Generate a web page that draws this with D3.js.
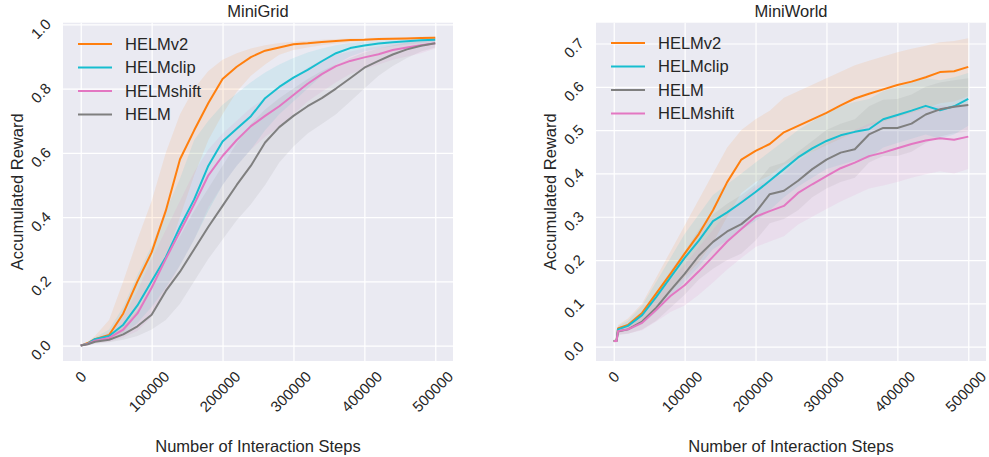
<!DOCTYPE html>
<html lang="en">
<head>
<meta charset="UTF-8">
<title>MiniGrid / MiniWorld</title>
<script src="https://d3js.org/d3.v7.min.js"></script>
<style>
  body { margin: 0; background: #fff; }
  svg { font-family: "Liberation Sans", Arial, sans-serif; }
  text { fill: #262626; }
  .grid line { stroke: #fff; stroke-width: 1.2; }
  .grid .domain { display: none; }
  .tick text { font-size: 15px; }
  .band { fill-opacity: 0.11; stroke: none; }
  .line { fill: none; stroke-width: 2; stroke-linejoin: round; }
</style>
</head>
<body>
<div id="chart"></div>
<script>
// ---- shared
const colors = { HELMv2: "#ff7f0e", HELMclip: "#17becf", HELMshift: "#e377c2", HELM: "#7f7f7f" };
const xTicks = [0, 100000, 200000, 300000, 400000, 500000];

// ---- MiniGrid
const gridSteps = [0, 10000, 20000, 40000, 60000, 80000, 100000, 120000, 140000, 160000, 180000, 200000, 220000, 240000, 260000, 280000, 300000, 320000, 340000, 360000, 380000, 400000, 420000, 440000, 460000, 480000, 500000];
const gridYTicks = [0, 0.2, 0.4, 0.6, 0.8, 1.0];
const gridOrder = ["HELMv2", "HELMclip", "HELMshift", "HELM"];

const gridV2Mean = [0, 0.008, 0.02, 0.033, 0.1, 0.2, 0.29, 0.42, 0.58, 0.67, 0.755, 0.83, 0.868, 0.898, 0.918, 0.928, 0.938, 0.941, 0.945, 0.948, 0.951, 0.952, 0.954, 0.955, 0.956, 0.957, 0.958];
const gridV2Lo = [0, 0.005, 0.012, 0.02, 0.04, 0.1, 0.18, 0.27, 0.4, 0.53, 0.64, 0.72, 0.79, 0.84, 0.875, 0.905, 0.92, 0.928, 0.935, 0.94, 0.944, 0.947, 0.949, 0.951, 0.952, 0.953, 0.954];
const gridV2Hi = [0, 0.012, 0.03, 0.08, 0.2, 0.33, 0.45, 0.6, 0.72, 0.8, 0.855, 0.89, 0.91, 0.925, 0.935, 0.942, 0.946, 0.949, 0.952, 0.954, 0.956, 0.957, 0.958, 0.959, 0.96, 0.961, 0.962];

const gridClipMean = [0, 0.006, 0.02, 0.03, 0.065, 0.125, 0.2, 0.275, 0.37, 0.455, 0.56, 0.635, 0.675, 0.714, 0.77, 0.805, 0.834, 0.858, 0.885, 0.91, 0.926, 0.934, 0.94, 0.944, 0.947, 0.95, 0.952];
const gridClipLo = [0, 0.003, 0.012, 0.018, 0.035, 0.07, 0.12, 0.18, 0.25, 0.33, 0.42, 0.5, 0.56, 0.61, 0.67, 0.72, 0.76, 0.8, 0.84, 0.875, 0.9, 0.915, 0.925, 0.932, 0.937, 0.942, 0.946];
const gridClipHi = [0, 0.01, 0.025, 0.05, 0.12, 0.22, 0.31, 0.42, 0.52, 0.64, 0.7, 0.75, 0.785, 0.82, 0.85, 0.875, 0.895, 0.912, 0.925, 0.935, 0.942, 0.946, 0.949, 0.952, 0.954, 0.956, 0.958];

const gridShiftMean = [0, 0.005, 0.015, 0.024, 0.05, 0.1, 0.18, 0.27, 0.355, 0.44, 0.53, 0.59, 0.64, 0.683, 0.715, 0.745, 0.78, 0.815, 0.845, 0.87, 0.886, 0.897, 0.907, 0.92, 0.928, 0.935, 0.941];
const gridShiftLo = [0, 0.002, 0.008, 0.012, 0.025, 0.045, 0.09, 0.17, 0.25, 0.33, 0.43, 0.5, 0.56, 0.61, 0.65, 0.68, 0.72, 0.76, 0.79, 0.82, 0.845, 0.86, 0.875, 0.89, 0.9, 0.91, 0.925];
const gridShiftHi = [0, 0.01, 0.022, 0.04, 0.09, 0.17, 0.27, 0.36, 0.45, 0.54, 0.61, 0.66, 0.7, 0.74, 0.77, 0.8, 0.835, 0.865, 0.89, 0.905, 0.915, 0.925, 0.932, 0.94, 0.945, 0.95, 0.953];

const gridHelmMean = [0, 0.004, 0.012, 0.018, 0.035, 0.06, 0.096, 0.17, 0.23, 0.3, 0.37, 0.435, 0.5, 0.56, 0.632, 0.68, 0.715, 0.745, 0.77, 0.8, 0.832, 0.865, 0.886, 0.906, 0.922, 0.933, 0.941];
const gridHelmLo = [0, 0.001, 0.006, 0.01, 0.018, 0.03, 0.05, 0.08, 0.13, 0.2, 0.27, 0.33, 0.39, 0.44, 0.5, 0.57, 0.62, 0.66, 0.69, 0.72, 0.76, 0.8, 0.84, 0.87, 0.895, 0.915, 0.928];
const gridHelmHi = [0, 0.008, 0.018, 0.03, 0.06, 0.11, 0.18, 0.27, 0.34, 0.42, 0.49, 0.56, 0.63, 0.69, 0.735, 0.77, 0.8, 0.83, 0.855, 0.875, 0.895, 0.912, 0.925, 0.935, 0.943, 0.948, 0.952];

// ---- MiniWorld
const worldSteps = [0, 4000, 6000, 20000, 40000, 60000, 80000, 100000, 120000, 140000, 160000, 180000, 200000, 220000, 240000, 260000, 280000, 300000, 320000, 340000, 360000, 380000, 400000, 420000, 440000, 460000, 480000, 500000];
const worldYTicks = [0, 0.1, 0.2, 0.3, 0.4, 0.5, 0.6, 0.7];
const worldOrder = ["HELMv2", "HELMclip", "HELM", "HELMshift"];

const worldV2Mean = [0.013, 0.014, 0.042, 0.05, 0.078, 0.123, 0.168, 0.215, 0.26, 0.315, 0.38, 0.432, 0.452, 0.468, 0.495, 0.51, 0.525, 0.54, 0.557, 0.573, 0.584, 0.594, 0.604, 0.612, 0.622, 0.634, 0.636, 0.646];
const worldV2Lo = [0.01, 0.011, 0.034, 0.038, 0.058, 0.09, 0.125, 0.16, 0.195, 0.24, 0.3, 0.355, 0.38, 0.395, 0.42, 0.435, 0.45, 0.465, 0.48, 0.495, 0.51, 0.52, 0.53, 0.54, 0.55, 0.562, 0.566, 0.578];
const worldV2Hi = [0.016, 0.017, 0.05, 0.065, 0.1, 0.16, 0.22, 0.28, 0.34, 0.4, 0.46, 0.5, 0.525, 0.545, 0.575, 0.59, 0.605, 0.62, 0.635, 0.65, 0.66, 0.67, 0.68, 0.688, 0.695, 0.703, 0.706, 0.712];

const worldClipMean = [0.013, 0.014, 0.04, 0.048, 0.073, 0.115, 0.16, 0.205, 0.245, 0.29, 0.31, 0.333, 0.357, 0.383, 0.41, 0.437, 0.458, 0.475, 0.488, 0.496, 0.502, 0.525, 0.535, 0.545, 0.556, 0.546, 0.555, 0.572];
const worldClipLo = [0.01, 0.011, 0.032, 0.036, 0.052, 0.08, 0.115, 0.15, 0.185, 0.225, 0.245, 0.27, 0.29, 0.315, 0.345, 0.37, 0.39, 0.41, 0.42, 0.43, 0.435, 0.46, 0.47, 0.48, 0.49, 0.48, 0.49, 0.51];
const worldClipHi = [0.016, 0.016, 0.048, 0.06, 0.095, 0.15, 0.205, 0.26, 0.305, 0.35, 0.375, 0.4, 0.425, 0.45, 0.475, 0.5, 0.52, 0.54, 0.555, 0.565, 0.572, 0.59, 0.6, 0.61, 0.62, 0.615, 0.622, 0.632];

const worldHelmMean = [0.013, 0.013, 0.035, 0.04, 0.058, 0.09, 0.13, 0.168, 0.21, 0.242, 0.266, 0.283, 0.31, 0.352, 0.36, 0.383, 0.41, 0.432, 0.448, 0.456, 0.49, 0.505, 0.505, 0.515, 0.536, 0.548, 0.554, 0.558];
const worldHelmLo = [0.01, 0.01, 0.027, 0.03, 0.04, 0.06, 0.09, 0.12, 0.155, 0.18, 0.2, 0.215, 0.245, 0.285, 0.295, 0.315, 0.345, 0.365, 0.38, 0.39, 0.425, 0.44, 0.44, 0.45, 0.47, 0.485, 0.493, 0.497];
const worldHelmHi = [0.016, 0.016, 0.045, 0.052, 0.08, 0.125, 0.175, 0.22, 0.27, 0.305, 0.33, 0.35, 0.375, 0.415, 0.425, 0.45, 0.475, 0.5, 0.515, 0.525, 0.555, 0.57, 0.572, 0.582, 0.6, 0.61, 0.615, 0.62];

const worldShiftMean = [0.013, 0.013, 0.036, 0.04, 0.055, 0.085, 0.117, 0.142, 0.174, 0.208, 0.243, 0.272, 0.3, 0.313, 0.325, 0.355, 0.375, 0.394, 0.412, 0.425, 0.44, 0.448, 0.458, 0.468, 0.476, 0.481, 0.478, 0.485];
const worldShiftLo = [0.01, 0.01, 0.028, 0.03, 0.038, 0.058, 0.08, 0.095, 0.12, 0.148, 0.178, 0.205, 0.23, 0.243, 0.255, 0.282, 0.3, 0.318, 0.335, 0.35, 0.365, 0.372, 0.38, 0.39, 0.398, 0.405, 0.4, 0.41];
const worldShiftHi = [0.016, 0.016, 0.045, 0.05, 0.075, 0.115, 0.155, 0.19, 0.23, 0.27, 0.31, 0.34, 0.37, 0.385, 0.4, 0.43, 0.45, 0.47, 0.49, 0.5, 0.515, 0.525, 0.535, 0.545, 0.552, 0.557, 0.555, 0.56];

const width = 989, height = 457;
const svg = d3.select("#chart").append("svg").attr("width", width).attr("height", height);

function drawPanel(cfg) {
  const top = 22.7, bottom = 361, w = 390;
  const x = d3.scaleLinear().domain([-25000, 525000]).range([cfg.left, cfg.left + w]);
  const y = d3.scaleLinear().domain(cfg.yDomain).range([bottom, top]);
  const g = svg.append("g");

  g.append("rect").attr("x", cfg.left).attr("y", top)
    .attr("width", w).attr("height", bottom - top).attr("fill", "#eaeaf2");

  // grid + x tick labels (rotated 45deg, like plt.xticks(rotation=45))
  const xa = g.append("g").attr("class", "grid")
    .attr("transform", `translate(0,${bottom})`)
    .call(d3.axisBottom(x).tickValues(xTicks).tickSize(-(bottom - top)).tickFormat(d3.format("d")))
    .attr("font-family", null).attr("font-size", null);
  xa.selectAll(".tick text").each(function () {
    const tw = this.getComputedTextLength();
    const ink = (tw + 0.72 * 15) * Math.SQRT1_2;
    d3.select(this).attr("x", 0).attr("y", 0).attr("dy", "0.35em").attr("text-anchor", "middle")
      .attr("transform", `translate(${-tw / 16},${9 + ink / 2}) rotate(-45)`);
  });

  const ya = g.append("g").attr("class", "grid")
    .attr("transform", `translate(${cfg.left},0)`)
    .call(d3.axisLeft(y).tickValues(cfg.yTicks).tickSize(-w).tickFormat(d3.format(".1f")))
    .attr("font-family", null).attr("font-size", null);
  ya.selectAll(".tick text").each(function () {
    const tw = this.getComputedTextLength();
    const ink = (tw + 0.72 * 15) * Math.SQRT1_2;
    d3.select(this).attr("x", 0).attr("y", 0).attr("dy", "0.35em").attr("text-anchor", "middle")
      .attr("transform", `translate(${-11 - ink / 2},4) rotate(-45)`);
  });

  const area = d3.area().x((d, i) => x(cfg.steps[i])).y0(d => y(d[0])).y1(d => y(d[1]));
  const line = d3.line().x((d, i) => x(cfg.steps[i])).y(d => y(d));

  cfg.order.forEach(name => {
    const s = cfg.series[name];
    g.append("path").attr("class", "band").attr("fill", colors[name])
      .attr("d", area(s.lo.map((v, i) => [v, s.hi[i]])));
  });
  cfg.order.forEach(name => {
    g.append("path").attr("class", "line").attr("stroke", colors[name])
      .attr("d", line(cfg.series[name].mean));
  });

  // legend, no frame
  cfg.order.forEach((name, i) => {
    const ly = cfg.legendTop + i * 23.5;
    g.append("line").attr("x1", cfg.left + 15).attr("x2", cfg.left + 49)
      .attr("y1", ly).attr("y2", ly).attr("stroke", colors[name]).attr("stroke-width", 2);
    g.append("text").attr("x", cfg.left + 62).attr("y", ly).attr("dy", "0.35em")
      .style("font-size", "16.5px").text(name);
  });

  const cx = cfg.left + w / 2;
  g.append("text").attr("x", cx).attr("y", 16.5).attr("text-anchor", "middle")
    .style("font-size", "16.5px").text(cfg.title);
  g.append("text").attr("x", cx).attr("y", 451.5).attr("text-anchor", "middle")
    .style("font-size", "16.5px").text("Number of Interaction Steps");
  g.append("text").attr("transform", `translate(${cfg.left - 40.5},${(top + bottom) / 2}) rotate(-90)`)
    .attr("text-anchor", "middle").style("font-size", "16.5px").text("Accumulated Reward");
}

drawPanel({
  title: "MiniGrid", left: 63, yDomain: [-0.048, 1.005], yTicks: gridYTicks,
  steps: gridSteps, order: gridOrder, legendTop: 44,
  series: {
    HELMv2: { mean: gridV2Mean, lo: gridV2Lo, hi: gridV2Hi },
    HELMclip: { mean: gridClipMean, lo: gridClipLo, hi: gridClipHi },
    HELMshift: { mean: gridShiftMean, lo: gridShiftLo, hi: gridShiftHi },
    HELM: { mean: gridHelmMean, lo: gridHelmLo, hi: gridHelmHi }
  }
});

drawPanel({
  title: "MiniWorld", left: 596, yDomain: [-0.033, 0.748], yTicks: worldYTicks,
  steps: worldSteps, order: worldOrder, legendTop: 43,
  series: {
    HELMv2: { mean: worldV2Mean, lo: worldV2Lo, hi: worldV2Hi },
    HELMclip: { mean: worldClipMean, lo: worldClipLo, hi: worldClipHi },
    HELM: { mean: worldHelmMean, lo: worldHelmLo, hi: worldHelmHi },
    HELMshift: { mean: worldShiftMean, lo: worldShiftLo, hi: worldShiftHi }
  }
});
</script>
</body>
</html>
